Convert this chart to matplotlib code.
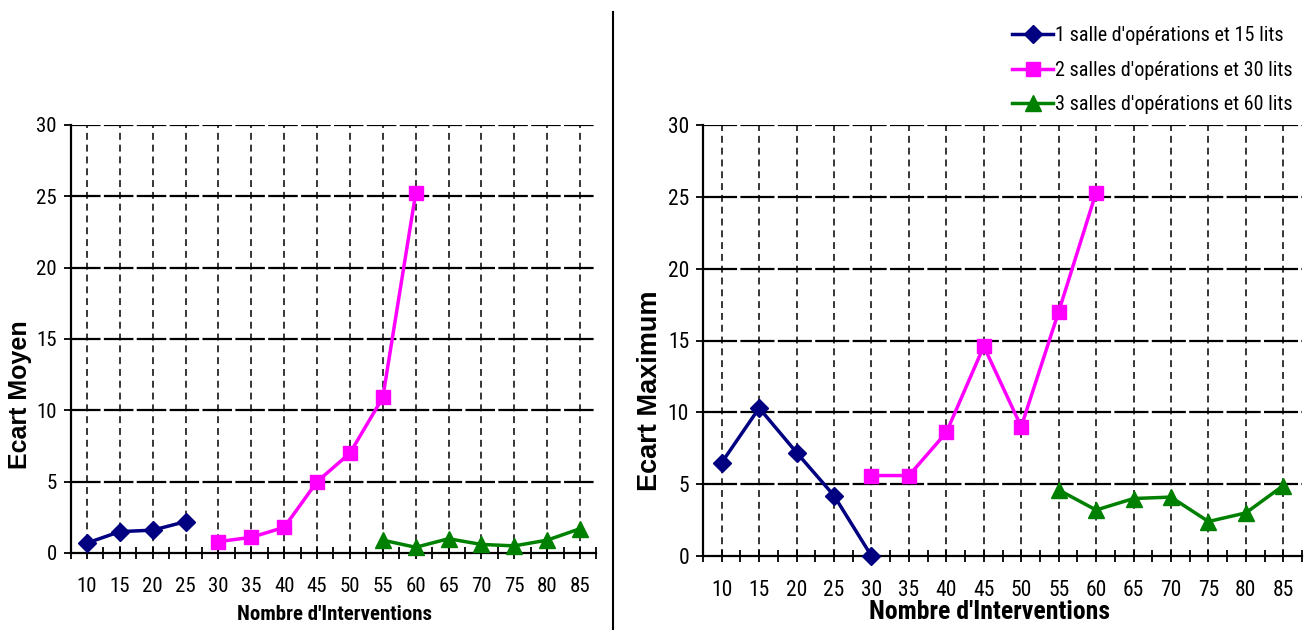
import matplotlib
matplotlib.use("Agg")
import matplotlib.pyplot as plt
import numpy as np
from matplotlib.lines import Line2D

plt.rcParams['lines.scale_dashes'] = False

categories = ["10", "15", "20", "25", "30", "35", "40", "45", "50", "55", "60", "65", "70", "75", "80", "85"]
nan = np.nan

# Ecart Moyen (left)
moy_s1 = [0.7, 1.5, 1.6, 2.2, nan, nan, nan, nan, nan, nan, nan, nan, nan, nan, nan, nan]
moy_s2 = [nan, nan, nan, nan, 0.8, 1.1, 1.8, 5.0, 7.0, 10.9, 25.2, nan, nan, nan, nan, nan]
moy_s3 = [nan, nan, nan, nan, nan, nan, nan, nan, nan, 0.9, 0.4, 1.0, 0.6, 0.5, 0.9, 1.7]

# Ecart Maximum (right)
max_s1 = [6.5, 10.3, 7.2, 4.2, 0.0, nan, nan, nan, nan, nan, nan, nan, nan, nan, nan, nan]
max_s2 = [nan, nan, nan, nan, 5.6, 5.6, 8.6, 14.6, 9.0, 17.0, 25.3, nan, nan, nan, nan, nan]
max_s3 = [nan, nan, nan, nan, nan, nan, nan, nan, nan, 4.6, 3.2, 4.0, 4.1, 2.4, 3.0, 4.9]

series_labels = ["1 salle d'opérations et 15 lits",
                 "2 salles d'opérations et 30 lits",
                 "3 salles d'opérations et 60 lits"]
yticks = [0, 5, 10, 15, 20, 25, 30]
xlabel = "Nombre d'Interventions"
ylabels = ["Ecart Moyen", "Ecart Maximum"]

colors = ["#000080", "#FF00FF", "#008000"]
markers = ["D", "s", "^"]
msizes = [9.5, 10, 11]

NARROW = ["Roboto Condensed", "DejaVu Sans"]
BOLD = ["Liberation Sans", "DejaVu Sans"]
W, H = 1312, 630
fig = plt.figure(figsize=(W / 100, H / 100), dpi=100)


def px_axes(x0, x1, ytop, ybot):
    return fig.add_axes([x0 / W, 1 - ybot / H, (x1 - x0) / W, (ybot - ytop) / H])


def setup(ax, data, spacing_px, tick_size):
    x = np.arange(len(categories))
    ax.set_xlim(-0.5, len(categories) - 0.5)
    ax.set_ylim(0, 30)
    pt = spacing_px * 0.72
    for y in yticks[1:]:
        ax.axhline(y, color="black", lw=1.6, linestyle=(0, (pt - 2.4, 2.4)), zorder=1)
    for xi in x:
        ax.axvline(xi, color="black", lw=1.1, linestyle=(0, (5, 3.5)), zorder=1)
    for vals, c, m, ms, lab in zip(data, colors, markers, msizes, series_labels):
        ax.plot(x, vals, color=c, marker=m, markersize=ms, lw=2.5, label=lab,
                clip_on=False, zorder=3)
    for s in ["top", "right"]:
        ax.spines[s].set_visible(False)
    for s in ["left", "bottom"]:
        ax.spines[s].set_linewidth(1.6)
        ax.spines[s].set_zorder(2)
    ax.set_xticks(x)
    ax.set_xticks(np.arange(-0.5, len(categories)), minor=True)
    ax.set_xticklabels(categories, fontfamily=NARROW, fontsize=tick_size)
    ax.tick_params(axis="x", which="both", direction="inout", length=8, width=1.3, pad=13)
    ax.set_yticks(yticks)
    ax.set_yticklabels([str(v) for v in yticks], fontfamily=NARROW, fontsize=tick_size)
    ax.tick_params(axis="y", direction="out", length=5, width=1.3, pad=5)


ax1 = px_axes(70.6, 596.4, 125, 553)
setup(ax1, [moy_s1, moy_s2, moy_s3], 32.87, 15)
ax2 = px_axes(703, 1302, 125, 556)
setup(ax2, [max_s1, max_s2, max_s3], 37.4, 15.5)

# axis titles
fig.text(335 / W, 1 - 615 / H, xlabel, ha="center", va="center", fontfamily=NARROW,
         fontweight="bold", fontsize=15)
fig.text(990 / W, 1 - 612 / H, xlabel, ha="center", va="center", fontfamily=NARROW,
         fontweight="bold", fontsize=18.5)
fig.text(20 / W, 1 - 395 / H, ylabels[0], ha="center", va="center", rotation=90,
         fontfamily=BOLD, fontweight="bold", fontsize=18)
fig.text(650 / W, 1 - 391 / H, ylabels[1], ha="center", va="center", rotation=90,
         fontfamily=BOLD, fontweight="bold", fontsize=19.5)

# separator line
fig.add_artist(Line2D([612.5 / W, 612.5 / W], [0, 1 - 12 / H], color="black", lw=1.5))

handles, labs = ax2.get_legend_handles_labels()
leg = fig.legend(handles, labs, loc="upper left", bbox_to_anchor=(1012 / W, 1 - 26 / H),
                 frameon=False, prop={"family": NARROW, "size": 14.5},
                 handlelength=2.05, handletextpad=0.1, labelspacing=0.78, borderpad=0,
                 borderaxespad=0)

fig.savefig("out.png", dpi=100)
